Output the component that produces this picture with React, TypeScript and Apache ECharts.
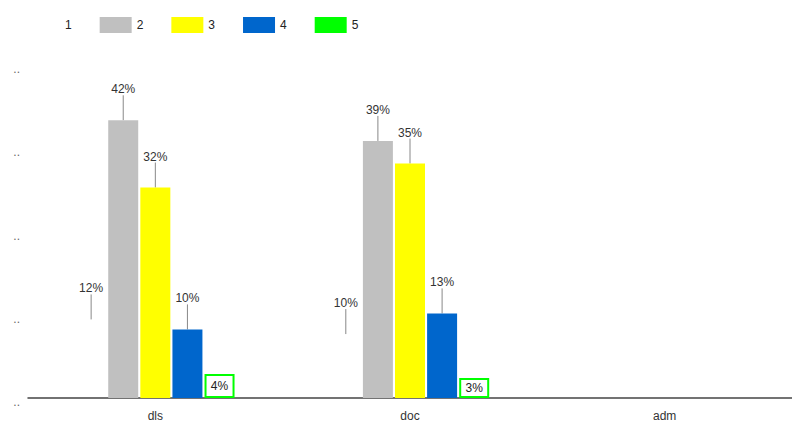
import React, { useEffect, useRef } from "react";
import * as echarts from "echarts";

const categories = ["dls", "doc", "adm"];
const seriesNames = ["1", "2", "3", "4", "5"];
const series1 = [11.8, 9.6, null];
const series2 = [41.7, 38.6, null];
const series3 = [31.6, 35.2, null];
const series4 = [10.3, 12.7, null];
const series5 = [3.6, 3.0, null];
const colors = ["rgba(0,0,0,0)", "#c0c0c0", "#ffff00", "#0066cc", "#00ff00"];
const yTicks = ["..", "..", "..", "..", ".."];

const FONT = "Liberation Sans, Arial, sans-serif";

export default function App() {
  const ref = useRef<HTMLDivElement>(null);
  useEffect(() => {
    if (!ref.current) return;
    const chart = echarts.init(ref.current, undefined, { renderer: "svg" });
    const values = [series1, series2, series3, series4, series5];
    const fmt = (p: any) => Math.round(p.value) + "%";
    const series = values.map((d, i) => {
      const isLast = i === 4;
      return {
        name: seriesNames[i],
        type: "bar",
        data: d,
        barWidth: 30,
        barGap: "7%",
        itemStyle: isLast
          ? { color: "#ffffff", borderColor: "#00ff00", borderWidth: 2 }
          : { color: colors[i] },
        label: isLast
          ? {
              show: true,
              position: "inside",
              formatter: fmt,
              color: "#222",
              fontSize: 12,
              fontFamily: FONT,
            }
          : {
              show: true,
              position: "top",
              distance: 2,
              formatter: fmt,
              color: "#333",
              fontSize: 12,
              fontFamily: FONT,
            },
        labelLayout: isLast ? undefined : { dy: -23 },
        labelLine: isLast
          ? undefined
          : { show: true, lineStyle: { color: "#888", width: 1 } },
      };
    });
    chart.setOption({
      animation: false,
      textStyle: { fontFamily: FONT },
      legend: {
        left: 23,
        top: 12,
        icon: "rect",
        itemWidth: 32,
        itemHeight: 16,
        itemGap: 28,
        textStyle: { color: "#222", fontSize: 12, fontFamily: FONT },
        data: [
          { name: "1", itemStyle: { color: "rgba(0,0,0,0)" } },
          "2",
          "3",
          "4",
          { name: "5", itemStyle: { color: "#00ff00", borderWidth: 0 } },
        ],
      },
      grid: { left: 28, right: -10, top: 65, bottom: 27, containLabel: false },
      xAxis: {
        type: "category",
        data: categories,
        axisLine: { lineStyle: { color: "#444", width: 1.5 } },
        axisTick: { show: false },
        axisLabel: { color: "#333", fontSize: 12, margin: 12, fontFamily: FONT },
      },
      yAxis: {
        type: "value",
        min: 0,
        max: 50,
        interval: 12.5,
        splitLine: { show: false },
        axisLine: { show: false },
        axisTick: { show: false },
        axisLabel: {
          color: "#666",
          fontSize: 12,
          margin: 8,
          verticalAlign: "top",
          padding: [-2, 0, 0, 0],
          formatter: (_v: number, idx: number) => yTicks[idx] ?? "..",
        },
      },
      series,
    });
    return () => chart.dispose();
  }, []);
  return <div ref={ref} style={{ width: 792, height: 425, position: "absolute", left: 0, top: 0 }} />;
}
